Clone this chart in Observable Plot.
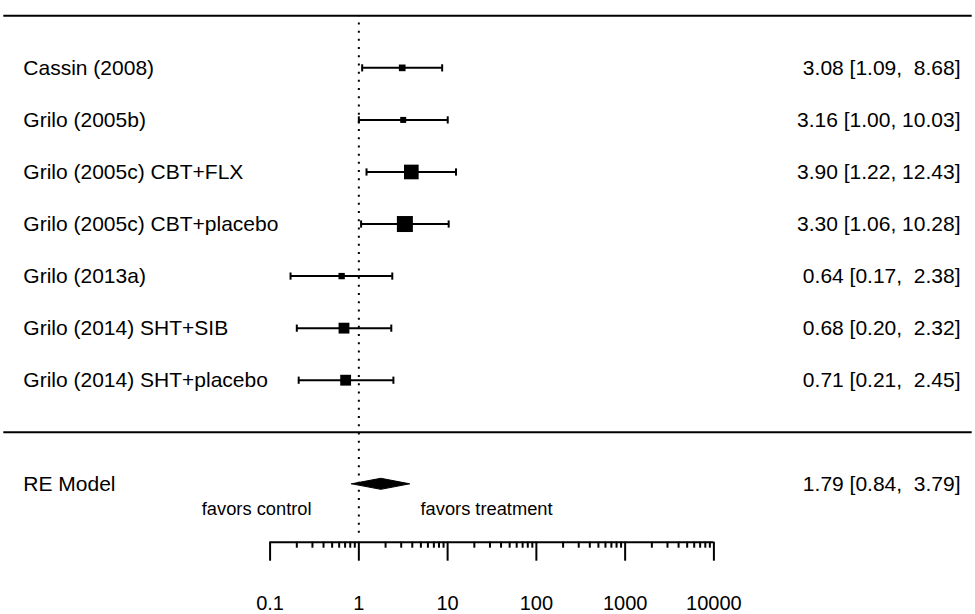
<!DOCTYPE html>
<html><head><meta charset="utf-8">
<script src="https://cdn.jsdelivr.net/npm/d3@7"></script>
<script src="https://cdn.jsdelivr.net/npm/@observablehq/plot@0.6"></script>
<style>
html,body{margin:0;padding:0;background:#fff;}
svg text{white-space:pre;}
</style></head><body><div id="chart"></div>
<script>
// ---- data ----
const studyLabels = ["Cassin (2008)", "Grilo (2005b)", "Grilo (2005c) CBT+FLX", "Grilo (2005c) CBT+placebo", "Grilo (2013a)", "Grilo (2014) SHT+SIB", "Grilo (2014) SHT+placebo"];
const estimates = [3.08, 3.16, 3.90, 3.30, 0.64, 0.68, 0.71];
const ciLower   = [1.09, 1.00, 1.22, 1.06, 0.17, 0.20, 0.21];
const ciUpper   = [8.68, 10.03, 12.43, 10.28, 2.38, 2.32, 2.45];
const weights   = [10.0, 9.2, 19.6, 21.2, 9.6, 15.0, 15.0];
const summaryLabel = "RE Model";
const summaryValues = [1.79, 0.84, 3.79]; // estimate, lower, upper
const majorTicks = [0.1, 1, 10, 100, 1000, 10000];
const tickLabels = ["0.1", "1", "10", "100", "1000", "10000"];
const favorsLabels = ["favors control", "favors treatment"];

// ---- layout (data units, as in metafor's xlim / textpos / ylim) ----
const xlim = [1e-4, Math.pow(10, 6.91)];
const textpos = [1.66e-4, 6.0e6];
const ylim = [-2.112, 8.294];
const favorsPos = [0.293, 4.95];
const favorsRow = -1.47;
const diamondHalf = 0.106;

const k = studyLabels.length;
const studies = studyLabels.map((s, i) => ({study: s, est: estimates[i], lo: ciLower[i], hi: ciUpper[i], w: weights[i], row: k - i}));
const sumRow = -1;
const fmt = v => v.toFixed(2);
const triples = [...studies.map(d => [d.est, d.lo, d.hi]), summaryValues];
const wid = j => d3.max(triples, t => fmt(t[j]).length);
const annot = t => `${fmt(t[0]).padStart(wid(0))} [${fmt(t[1]).padStart(wid(1))}, ${fmt(t[2]).padStart(wid(2))}]`;
studies.forEach(d => d.annot = annot([d.est, d.lo, d.hi]));
const summary = [{label: summaryLabel, row: sumRow, annot: annot(summaryValues)}];
const diamond = [
  {x: summaryValues[1], y1: sumRow, y2: sumRow},
  {x: summaryValues[0], y1: sumRow - diamondHalf, y2: sumRow + diamondHalf},
  {x: summaryValues[2], y1: sumRow, y2: sumRow}
];
const allTicks = d3.scaleLog().domain([majorTicks[0], majorTicks[majorTicks.length - 1]]).ticks();
const minorTicks = allTicks.filter(t => !majorTicks.some(m => Math.abs(m - t) / m < 1e-9));

const capSymbol = {draw(ctx, size) { const h = Math.sqrt(size / Math.PI); ctx.moveTo(0, -h); ctx.lineTo(0, h); }};
const caps = studies.flatMap(d => [{x: d.lo, row: d.row}, {x: d.hi, row: d.row}]);

const SW = 2;
const chart = Plot.plot({
  width: 975, height: 614,
  marginLeft: 3.3, marginRight: 3.3, marginTop: 0, marginBottom: 72.3,
  x: {type: "log", domain: xlim},
  y: {domain: ylim, axis: null},
  r: {type: "linear", domain: d3.extent(weights), range: [3.385, 9.03]},
  style: {fontFamily: "'Liberation Sans', Arial, sans-serif", fontSize: "21px", color: "black", background: "white", overflow: "visible"},
  marks: [
    Plot.ruleY([k + 1, 0], {stroke: "black", strokeWidth: SW}),
    Plot.ruleX([1], {y1: ylim[0] + 0.17, y2: k + 1, stroke: "black", strokeWidth: SW, strokeDasharray: "2,6.2"}),
    Plot.ruleY(studies, {y: "row", x1: "lo", x2: "hi", stroke: "black", strokeWidth: SW}),
    Plot.dot(caps, {x: "x", y: "row", r: 3.6, symbol: capSymbol, stroke: "black", strokeWidth: SW, fill: "none"}),
    Plot.dot(studies, {x: "est", y: "row", r: "w", symbol: "square", fill: "black", stroke: "none"}),
    Plot.area(diamond, {x1: "x", y1: "y1", y2: "y2", fill: "black", stroke: "black", strokeWidth: 1}),
    Plot.text(studies, {x: textpos[0], y: "row", text: "study", textAnchor: "start", fontSize: 21}),
    Plot.text(studies, {x: textpos[1], y: "row", text: "annot", textAnchor: "end", fontSize: 21}),
    Plot.text(summary, {x: textpos[0], y: "row", text: "label", textAnchor: "start", fontSize: 21}),
    Plot.text(summary, {x: textpos[1], y: "row", text: "annot", textAnchor: "end", fontSize: 21}),
    Plot.text([favorsLabels[0]], {x: favorsPos[0], y: favorsRow, text: d => d, textAnchor: "end", fontSize: 18.3}),
    Plot.text([favorsLabels[1]], {x: favorsPos[1], y: favorsRow, text: d => d, textAnchor: "start", fontSize: 18.3}),
    Plot.ruleY([ylim[0]], {x1: majorTicks[0], x2: majorTicks[majorTicks.length - 1], stroke: "black", strokeWidth: SW}),
    Plot.axisX(minorTicks, {tickSize: 6, tickFormat: () => "", fill: "none", label: null, strokeWidth: SW}),
    Plot.axisX(majorTicks, {tickSize: 19, tickPadding: 35, tickFormat: d => tickLabels[majorTicks.indexOf(d)], fontSize: 20, label: null, strokeWidth: SW})
  ]
});
document.getElementById("chart").appendChild(chart);
</script></body></html>
